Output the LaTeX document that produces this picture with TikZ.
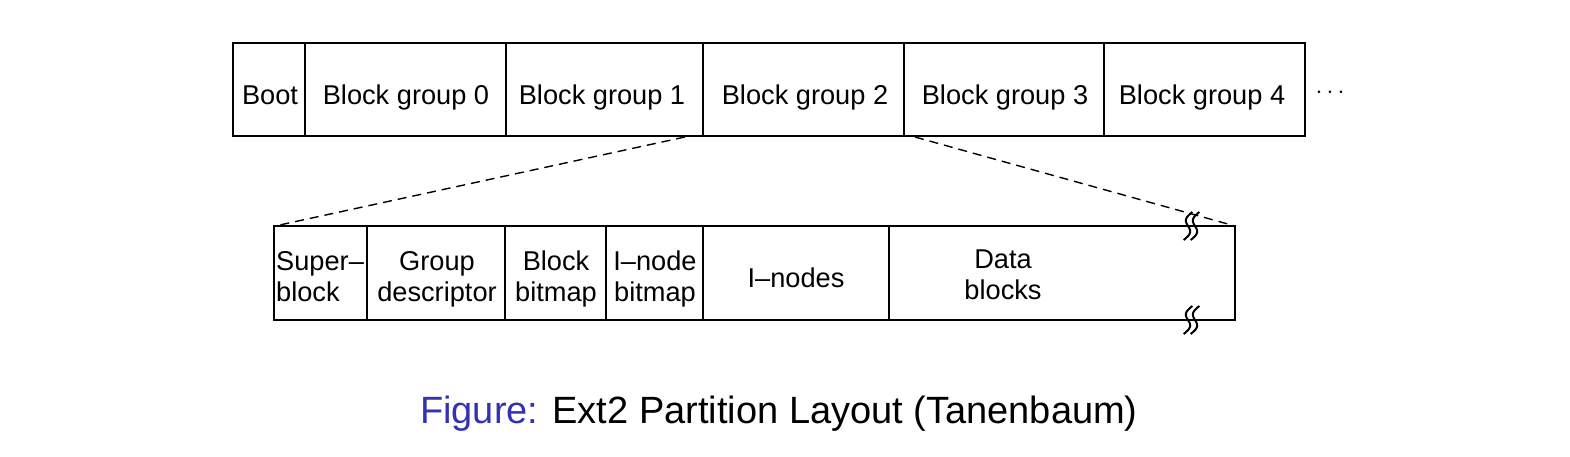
\documentclass[tikz,border=0pt]{standalone}
\usepackage{fontspec}
\setmainfont{Liberation Sans}
\definecolor{figblue}{RGB}{51,51,178}
\begin{document}
\begin{tikzpicture}[x=1pt,y=-1pt,
  box/.style={line width=2.6pt},
  lbl/.style={inner sep=0pt, anchor=base, font=\fontsize{27.2}{30.5}\selectfont, align=center},
  lbll/.style={inner sep=0pt, anchor=base west, font=\fontsize{27.2}{30.5}\selectfont, align=left},
  conn/.style={line width=1.4pt, dash pattern=on 9pt off 6pt},
  brk/.style={line width=2pt}]
\useasboundingbox (0,0) rectangle (1570,456);
% top row
\draw[box] (233,43) rectangle (1305,136);
\foreach \x in {305,506,703,904,1104} \draw[box] (\x,43) -- (\x,136);
\node[lbl] (boot) at (270,104) {Boot};
\node[lbl] (bg0) at (406,104) {Block group 0};
\node[lbl] (bg1) at (602,104) {Block group 1};
\node[lbl] (bg2) at (805,104) {Block group 2};
\node[lbl] (bg3) at (1005,104) {Block group 3};
\node[lbl] (bg4) at (1202,104) {Block group 4};
\node[inner sep=0pt, font=\fontsize{24}{28}\selectfont] (dots) at (1330,93) {$\cdots$};
% bottom row
\draw[box] (274,226) rectangle (1235,320);
\foreach \x in {367,505,606,703,889} \draw[box] (\x,226) -- (\x,320);
\node[lbll] (sb) at (276,301) {Super--\\block};
\node[lbl] (gd) at (437,301) {Group\\descriptor};
\node[lbl] (bb) at (556,301) {Block\\bitmap};
\node[lbl] (ib) at (655,301) {I--node\\bitmap};
\node[lbl] (in) at (796,287) {I--nodes};
\node[lbl] (db) at (1003,299) {Data\\blocks};
% break marks
\foreach \yy in {226,320}{
  \foreach \dx in {0,7}{
    \draw[brk] plot[domain=-14:14, samples=40, smooth] ({1188+\dx-0.3*\x+4*sin(13*\x)},{\yy+\x});
  }
}
% connectors
\coordinate (a1) at (685,137);
\coordinate (a2) at (275,226);
\coordinate (b1) at (915,137);
\coordinate (b2) at (1235,226);
\draw[conn] (a1) -- (a2);
\draw[conn] (b1) -- (b2);
% caption
\node[inner sep=0pt, anchor=base west, font=\fontsize{38}{44}\selectfont] (cap) at (420,423) {{\color{figblue}Figure:} Ext2 Partition Layout (Tanenbaum)};
\end{tikzpicture}
\end{document}
